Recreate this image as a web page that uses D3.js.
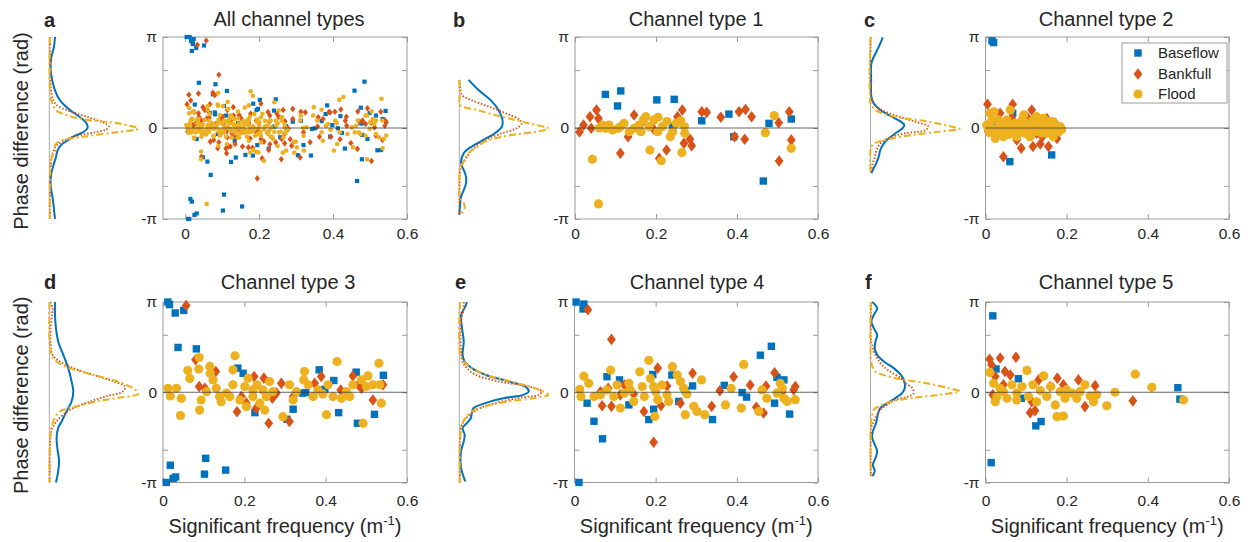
<!DOCTYPE html>
<html><head><meta charset="utf-8">
<script src="https://cdn.jsdelivr.net/npm/d3@7"></script>
<style>
body{margin:0;background:#fff}
text{font-family:"Liberation Sans",Arial,Helvetica,sans-serif;fill:#262626}
</style>
</head><body>
<svg id="chart" width="1248" height="542"></svg>
<script>
const PI = Math.PI;
// ---------- scatter data: [significant frequency (1/m), phase difference (rad)] ----------
const ct1_base = [[0.075,1.16],[0.113,1.28],[0.105,0.76],[0.202,0.97],[0.245,0.99],[0.241,0.05],[0.313,0.25],[0.38,0.48],[0.392,-0.3],[0.479,0.16],[0.534,0.31],[0.465,-1.83]];
const ct1_bank = [[0.011,-0.14],[0.021,0.1],[0.037,0.39],[0.04,-0.01],[0.053,0.62],[0.058,0.33],[0.112,-0.87],[0.131,-0.3],[0.146,0.45],[0.164,0.16],[0.195,-0.05],[0.208,-1.05],[0.226,-0.76],[0.253,0.39],[0.265,0.62],[0.269,-0.53],[0.284,-0.39],[0.288,-0.61],[0.313,0.56],[0.325,0.54],[0.36,0.37],[0.405,0.56],[0.421,0.64],[0.436,0.39],[0.394,-0.3],[0.419,-0.39],[0.503,0.18],[0.504,-1.14],[0.529,0.56],[0.534,-0.41]];
const ct1_flood = [[0.043,-1.08],[0.058,-2.62],[0.06,0],[0.068,0.1],[0.076,-0.01],[0.084,0.1],[0.093,-0.07],[0.107,-0.01],[0.113,0.05],[0.121,0.16],[0.134,-0.13],[0.146,-0.01],[0.158,0.1],[0.163,-0.13],[0.169,0.28],[0.175,0.39],[0.183,0.05],[0.185,-0.76],[0.195,0.28],[0.204,-0.13],[0.205,0.37],[0.213,-1.13],[0.216,0.05],[0.227,0.22],[0.235,-0.3],[0.241,-0.13],[0.25,0.16],[0.261,0.25],[0.264,-0.85],[0.27,0.05],[0.271,-0.18],[0.47,-0.16],[0.492,0.43],[0.534,-0.7]];

const ct2_base = [[0.016,3.01],[0.02,2.95],[0.06,-1.16],[0.163,-0.93],[0.067,0.51],[0.028,0.05],[0.11,-0.13],[0.143,0.16]];
const ct2_bank = [[0.005,0.82],[0.007,-0.13],[0.044,-0.99],[0.067,0.82],[0.088,-0.7],[0.114,0.62],[0.117,-0.64],[0.135,-0.55],[0.155,-0.64],[0.176,-0.36],[0.036,0.51],[0.102,0.39],[0.151,0.33],[0.077,-0.41],[0.172,0.16],[0.016,0.28],[0.052,-0.18],[0.126,-0.18],[0.159,-0.13],[0.03,0.2],[0.095,0.3],[0.14,-0.3],[0.065,0.35]];
const ct2_flood = [[0.011,0.51],[0.021,0.56],[0.061,0.62],[0.003,0.1],[0.02,-0.07],[0.024,-0.36],[0.036,0.16],[0.044,-0.01],[0.053,0.28],[0.065,-0.13],[0.073,0.16],[0.081,-0.01],[0.09,0.28],[0.098,-0.18],[0.106,0.05],[0.114,0.22],[0.122,-0.07],[0.131,0.1],[0.139,-0.18],[0.147,0.05],[0.155,0.22],[0.163,-0.07],[0.172,0.1],[0.18,-0.13],[0.184,0.05],[0.11,-0.3],[0.077,-0.3],[0.044,-0.3],[0.032,0.28],[0.143,0.33],[0.094,0.45],[0.126,0.39],[0.061,0.1],[0.09,-0.13],[0.118,-0.01],[0.151,-0.18],[0.167,-0.3],[0.01,-0.15],[0.03,0.0],[0.057,-0.05],[0.085,0.08],[0.135,0.0],[0.175,-0.05],[0.015,0.25],[0.048,0.12],[0.07,0.02],[0.1,0.15],[0.127,-0.12],[0.16,0.12],[0.188,-0.04],[0.007,-0.02],[0.038,-0.12],[0.102,-0.08],[0.145,0.14],[0.165,0.22],[0.057,-0.22],[0.12,0.3]];

const ct3_base = [[0.012,3.14],[0.016,3.05],[0.03,2.76],[0.051,2.85],[0.037,1.56],[0.082,1.51],[0.184,0.84],[0.197,0.66],[0.226,-0.71],[0.305,-0.94],[0.32,-0.59],[0.343,-0.03],[0.351,-0.01],[0.384,0.78],[0.398,0.1],[0.42,0.41],[0.432,-0.71],[0.475,0.7],[0.478,-1.08],[0.52,-0.77],[0.542,0.59],[0.008,-3.14],[0.018,-2.54],[0.025,-3.0],[0.031,-2.95],[0.105,-2.3],[0.102,-2.85],[0.154,-2.71]];
const ct3_bank = [[0.057,3.02],[0.08,1.13],[0.089,0.2],[0.103,0.14],[0.13,0.72],[0.182,-0.68],[0.205,-0.38],[0.224,0.55],[0.229,-0.56],[0.248,0.49],[0.26,-1.08],[0.269,-0.21],[0.291,0.31],[0.311,-1.02],[0.32,-0.15],[0.373,0.31],[0.389,0.55],[0.437,0.08],[0.467,0.57],[0.48,0.26],[0.488,0.14],[0.516,-0.27],[0.541,0.26],[0.193,-0.15],[0.279,-0.03]];
const ct3_flood = [[0.012,0.14],[0.018,-0.13],[0.033,0.14],[0.045,-0.21],[0.043,-0.81],[0.061,0.76],[0.066,0.48],[0.089,1.21],[0.088,0.81],[0.09,-0.62],[0.094,-0.27],[0.115,0.9],[0.116,0.66],[0.123,0.43],[0.131,0.14],[0.139,-0.15],[0.143,-0.33],[0.156,-0.03],[0.172,0.26],[0.177,1.27],[0.172,0.78],[0.189,-0.27],[0.201,0.2],[0.205,-0.5],[0.209,0.49],[0.221,-0.15],[0.231,0.26],[0.238,-0.38],[0.246,0.08],[0.254,-0.15],[0.262,0.37],[0.27,0.02],[0.25,-0.62],[0.295,-0.85],[0.311,0.26],[0.32,-0.27],[0.328,0.02],[0.348,0.72],[0.346,0.43],[0.357,0.26],[0.369,-0.15],[0.381,0.08],[0.393,-0.06],[0.402,-0.78],[0.406,0.26],[0.418,-0.15],[0.428,1.07],[0.439,-0.21],[0.451,0.02],[0.459,-0.15],[0.467,0.26],[0.492,-1.08],[0.488,0.43],[0.5,0.2],[0.504,0.57],[0.516,0.26],[0.531,1.01],[0.537,-0.38],[0.533,0.26],[0.164,-0.15],[0.221,0.08],[0.107,0.02]];

const ct4_base = [[0.004,3.14],[0.023,3.07],[0.021,2.9],[0.031,-0.38],[0.048,-1.01],[0.069,-1.62],[0.08,0.54],[0.134,-0.44],[0.111,0.43],[0.183,-0.95],[0.193,0.62],[0.195,-0.59],[0.24,0.6],[0.257,-0.32],[0.273,0.06],[0.291,0.22],[0.34,-0.95],[0.369,0.24],[0.413,-0.01],[0.424,-0.17],[0.458,1.29],[0.485,1.6],[0.499,0.52],[0.516,0.43],[0.493,-0.38],[0.53,-0.76],[0.011,-3.14]];
const ct4_bank = [[0.033,2.87],[0.091,1.84],[0.064,0.02],[0.068,-0.47],[0.091,-0.49],[0.083,0.14],[0.123,0.25],[0.146,-0.06],[0.171,-0.67],[0.195,-1.74],[0.205,0.84],[0.213,-0.47],[0.228,0.22],[0.261,-0.38],[0.291,0.66],[0.338,-0.49],[0.358,0.05],[0.392,0.54],[0.433,0.25],[0.448,-0.52],[0.466,-0.72],[0.472,0.22],[0.493,0.68],[0.512,0.02],[0.544,0.2],[0.54,0.08],[0.113,-0.09]];
const ct4_flood = [[0.013,0.1],[0.016,-0.15],[0.023,0.56],[0.035,0.31],[0.048,-0.15],[0.064,-0.09],[0.089,0.77],[0.08,0.08],[0.097,-0.15],[0.105,0.25],[0.113,-0.55],[0.123,-0.03],[0.134,0.31],[0.146,-0.32],[0.161,0.71],[0.167,0.2],[0.172,-0.15],[0.183,1.11],[0.187,0.48],[0.198,-0.84],[0.2,0.02],[0.205,-0.26],[0.216,0.25],[0.228,-0.09],[0.232,-0.32],[0.241,0.89],[0.253,0.6],[0.261,0.37],[0.269,0.14],[0.273,-0.78],[0.277,-0.06],[0.294,-0.49],[0.302,-0.67],[0.313,0.43],[0.321,-0.78],[0.372,-0.44],[0.386,0.14],[0.411,-0.55],[0.417,0.97],[0.454,-0.67],[0.462,0.08],[0.474,-0.21],[0.507,0.31],[0.512,0.14],[0.516,-0.21],[0.524,-0.32],[0.544,-0.26],[0.499,-0.03],[0.138,0.08],[0.195,0.2]];

const ct5_base = [[0.018,2.66],[0.014,-2.45],[0.026,0.81],[0.081,0.47],[0.088,-0.21],[0.124,-1.17],[0.137,-1.02],[0.474,0.16],[0.479,-0.24]];
const ct5_bank = [[0.01,1.15],[0.015,0.95],[0.036,1.19],[0.075,1.22],[0.018,-0.09],[0.024,0.55],[0.048,0.72],[0.061,0.6],[0.11,-0.71],[0.122,-0.64],[0.131,0.43],[0.159,0.2],[0.177,0.49],[0.192,0.26],[0.229,0.43],[0.245,-0.5],[0.27,0.23],[0.363,-0.3],[0.114,-0.33],[0.044,0.26]];
const ct5_flood = [[0.011,0.69],[0.02,0.31],[0.028,-0.15],[0.036,0.14],[0.044,0.02],[0.053,-0.21],[0.065,0.26],[0.077,-0.03],[0.09,0.2],[0.102,0.76],[0.106,-0.15],[0.117,0.26],[0.126,-0.33],[0.135,0.06],[0.143,0.57],[0.151,-0.15],[0.161,0.2],[0.172,-0.44],[0.176,-0.85],[0.192,-0.83],[0.196,-0.21],[0.2,0.08],[0.213,-0.03],[0.225,-0.21],[0.233,0.02],[0.245,0.26],[0.258,-0.13],[0.266,-0.33],[0.274,-0.09],[0.299,-0.47],[0.319,0],[0.369,0.63],[0.41,0.17],[0.488,-0.27],[0.024,-0.33],[0.077,-0.27],[0.184,0.02]];

// ---------- side density profiles: [phase (rad), relative density] ----------
const dens_a_base = [[3.14,0.064],[2.8,0.052],[2.4,0.02],[2.0,0.015],[1.6,0.037],[1.3,0.064],[1.0,0.11],[0.8,0.165],[0.6,0.24],[0.45,0.31],[0.3,0.375],[0.15,0.42],[0,0.43],[-0.15,0.375],[-0.3,0.27],[-0.45,0.195],[-0.6,0.127],[-0.8,0.09],[-1.0,0.075],[-1.3,0.045],[-1.6,0.02],[-2.0,0.015],[-2.4,0.037],[-2.8,0.052],[-3.14,0.064]];
const dens_a_bank = [[3.14,0.01],[2.4,0.01],[1.6,0.015],[1.3,0.02],[1.0,0.04],[0.8,0.08],[0.6,0.21],[0.45,0.36],[0.3,0.51],[0.15,0.63],[0.05,0.67],[-0.05,0.64],[-0.15,0.51],[-0.3,0.27],[-0.45,0.16],[-0.6,0.08],[-0.8,0.045],[-1.0,0.026],[-1.3,0.015],[-1.6,0.01],[-3.14,0.01]];
const dens_a_flood = [[3.14,0.005],[1.3,0.008],[1.0,0.02],[0.8,0.04],[0.6,0.08],[0.45,0.19],[0.3,0.38],[0.15,0.79],[-0.02,1.0],[-0.15,0.74],[-0.3,0.38],[-0.45,0.12],[-0.6,0.064],[-0.8,0.064],[-1.0,0.03],[-1.3,0.015],[-1.6,0.008],[-3.14,0.005]];
const dens_b_base = [[1.66,0.104],[1.31,0.216],[0.97,0.35],[0.62,0.44],[0.28,0.485],[0.05,0.48],[-0.18,0.40],[-0.41,0.27],[-0.64,0.14],[-0.87,0.05],[-1.22,0.02],[-1.45,0.05],[-1.68,0.075],[-1.91,0.075],[-2.14,0.05],[-2.37,0.02],[-2.6,0.01],[-3.0,0.0]];
const dens_b_bank = [[1.66,0.0],[1.43,0.01],[1.14,0.03],[0.97,0.13],[0.74,0.33],[0.51,0.52],[0.28,0.68],[0.16,0.70],[-0.01,0.645],[-0.18,0.48],[-0.36,0.33],[-0.53,0.235],[-0.76,0.14],[-0.99,0.086],[-1.22,0.04],[-1.45,0.01],[-1.8,0.003],[-3.0,0.003]];
const dens_b_flood = [[1.66,0.0],[1.08,0.005],[0.79,0.01],[0.62,0.2],[0.39,0.48],[0.16,0.78],[-0.02,1.0],[-0.3,0.48],[-0.47,0.29],[-0.7,0.18],[-0.87,0.10],[-1.16,0.05],[-1.33,0.01],[-1.6,0.003],[-2.37,0.005],[-2.6,0.05],[-2.77,0.06],[-3.0,0.01]];
const dens_c_base = [[3.13,0.138],[2.92,0.11],[2.69,0.075],[2.46,0.037],[2.23,0.01],[1.66,0.007],[1.08,0.01],[0.85,0.037],[0.62,0.11],[0.39,0.24],[0.22,0.34],[0.1,0.38],[-0.01,0.36],[-0.18,0.28],[-0.36,0.205],[-0.53,0.15],[-0.76,0.11],[-0.99,0.093],[-1.22,0.063],[-1.45,0.026],[-1.56,0.01]];
const dens_c_bank = [[3.13,0.003],[1.08,0.005],[0.85,0.035],[0.62,0.13],[0.39,0.32],[0.22,0.50],[0.05,0.65],[-0.07,0.62],[-0.18,0.39],[-0.3,0.24],[-0.47,0.13],[-0.7,0.075],[-0.99,0.05],[-1.22,0.026],[-1.45,0.01],[-1.56,0.005]];
const dens_c_flood = [[3.13,0.0],[0.85,0.0],[0.74,0.02],[0.56,0.09],[0.39,0.28],[0.22,0.65],[0.05,0.91],[-0.03,1.0],[-0.13,0.76],[-0.24,0.47],[-0.36,0.24],[-0.47,0.09],[-0.59,0.02],[-0.76,0.0],[-1.56,0.0]];
const dens_d_base = [[3.14,0.064],[2.69,0.064],[2.23,0.075],[1.77,0.10],[1.3,0.157],[0.84,0.213],[0.38,0.25],[0.03,0.27],[-0.32,0.25],[-0.55,0.213],[-0.78,0.176],[-1.01,0.14],[-1.24,0.10],[-1.59,0.082],[-1.94,0.09],[-2.4,0.11],[-2.75,0.10],[-3.14,0.075]];
const dens_d_bank = [[3.14,0.01],[2.92,0.037],[2.69,0.03],[2.23,0.015],[1.65,0.015],[1.3,0.037],[1.07,0.12],[0.84,0.27],[0.61,0.49],[0.38,0.72],[0.2,0.85],[0.03,0.83],[-0.14,0.64],[-0.32,0.46],[-0.55,0.27],[-0.78,0.157],[-1.01,0.082],[-1.24,0.037],[-1.48,0.015],[-3.14,0.005]];
const dens_d_flood = [[3.14,0.003],[1.65,0.005],[1.3,0.026],[1.07,0.082],[0.84,0.23],[0.61,0.49],[0.38,0.76],[0.14,0.94],[-0.05,1.0],[-0.2,0.76],[-0.32,0.53],[-0.49,0.31],[-0.61,0.157],[-0.78,0.082],[-1.01,0.045],[-1.36,0.015],[-3.14,0.003]];
const dens_e_base = [[3.14,0.086],[2.98,0.067],[2.69,0.02],[2.23,0.03],[1.77,0.05],[1.3,0.037],[1.07,0.06],[0.84,0.14],[0.61,0.29],[0.38,0.55],[0.2,0.74],[0.03,0.78],[-0.09,0.72],[-0.2,0.51],[-0.38,0.29],[-0.55,0.16],[-0.72,0.14],[-0.9,0.13],[-1.07,0.086],[-1.24,0.037],[-1.48,0.06],[-1.71,0.05],[-2.05,0.02],[-2.63,0.02],[-3.1,0.067]];
const dens_e_bank = [[3.14,0.05],[2.92,0.05],[2.46,0.02],[1.07,0.037],[0.84,0.086],[0.61,0.18],[0.38,0.44],[0.2,0.78],[0.03,0.925],[-0.09,0.89],[-0.2,0.66],[-0.38,0.40],[-0.55,0.235],[-0.78,0.12],[-1.01,0.05],[-1.24,0.02],[-3.14,0.01]];
const dens_e_flood = [[3.14,0.01],[1.3,0.01],[1.07,0.05],[0.84,0.14],[0.61,0.29],[0.38,0.57],[0.14,0.85],[-0.09,1.0],[-0.2,0.85],[-0.32,0.55],[-0.49,0.29],[-0.67,0.14],[-0.9,0.067],[-1.13,0.03],[-1.48,0.01],[-3.14,0.005]];
const dens_f_base = [[3.14,0.02],[2.92,0.075],[2.69,0.037],[2.46,0.01],[2.23,0.037],[2.0,0.075],[1.77,0.056],[1.53,0.048],[1.3,0.075],[1.07,0.15],[0.84,0.26],[0.61,0.34],[0.38,0.38],[0.14,0.385],[-0.03,0.355],[-0.2,0.28],[-0.38,0.19],[-0.55,0.11],[-0.72,0.086],[-0.9,0.075],[-1.13,0.056],[-1.36,0.026],[-1.59,0.019],[-1.82,0.048],[-2.05,0.075],[-2.29,0.056],[-2.52,0.026],[-2.75,0.048],[-2.92,0.02]];
const dens_f_bank = [[3.14,0.007],[1.77,0.007],[1.65,0.019],[1.42,0.037],[1.19,0.075],[0.95,0.13],[0.72,0.22],[0.49,0.34],[0.32,0.39],[0.14,0.47],[-0.03,0.485],[-0.14,0.43],[-0.26,0.28],[-0.43,0.19],[-0.61,0.11],[-0.78,0.075],[-1.01,0.037],[-1.24,0.01],[-2.92,0.005]];
const dens_f_flood = [[3.14,0.003],[1.07,0.005],[0.9,0.02],[0.72,0.056],[0.49,0.28],[0.32,0.62],[0.14,0.88],[0.03,1.0],[-0.09,0.765],[-0.2,0.47],[-0.32,0.24],[-0.49,0.093],[-0.61,0.037],[-0.78,0.02],[-1.01,0.005],[-2.92,0.003]];

// ---------- labels ----------
const seriesNames = ["Baseflow","Bankfull","Flood"];
const panelLetters = ["a","b","c","d","e","f"];
const panelTitles = ["All channel types","Channel type 1","Channel type 2","Channel type 3","Channel type 4","Channel type 5"];
const xTicks = [0,0.2,0.4,0.6];
const yTickValues = [-PI,-2,0,2,PI];

// panel a = union of all channel types
const all_base = [].concat(ct1_base,ct2_base,ct3_base,ct4_base,ct5_base);
const all_bank = [].concat(ct1_bank,ct2_bank,ct3_bank,ct4_bank,ct5_bank);
const all_flood = [].concat(ct1_flood,ct2_flood,ct3_flood,ct4_flood,ct5_flood);

const COL = ["#0072BD","#D95319","#EDB120"];
const FRAME = "#9a9a9a";

const layout = [
  {x0:163,x1:407,xmin:-0.06,top:37,bot:219,dx:49.3,titleX:289,small:true},
  {x0:575,x1:818,xmin:0,top:37,bot:219,dx:459.3,titleX:696},
  {x0:985.5,x1:1229,xmin:0,top:37,bot:219,dx:870.5,titleX:1106},
  {x0:163,x1:407,xmin:0,top:302,bot:482.5,dx:49.3,titleX:288},
  {x0:574.5,x1:818,xmin:0,top:302,bot:482.5,dx:459.3,titleX:697},
  {x0:985.5,x1:1229,xmin:0,top:302,bot:482.5,dx:870.5,titleX:1106}
];
const scatterData = [
  [all_base,all_bank,all_flood],
  [ct1_base,ct1_bank,ct1_flood],
  [ct2_base,ct2_bank,ct2_flood],
  [ct3_base,ct3_bank,ct3_flood],
  [ct4_base,ct4_bank,ct4_flood],
  [ct5_base,ct5_bank,ct5_flood]
];
const densData = [
  [dens_a_base,dens_a_bank,dens_a_flood],
  [dens_b_base,dens_b_bank,dens_b_flood],
  [dens_c_base,dens_c_bank,dens_c_flood],
  [dens_d_base,dens_d_bank,dens_d_flood],
  [dens_e_base,dens_e_bank,dens_e_flood],
  [dens_f_base,dens_f_bank,dens_f_flood]
];

const svg = d3.select("#chart");
const fmtY = v => Math.abs(v-PI)<1e-6 ? "π" : Math.abs(v+PI)<1e-6 ? "-π" : v===0 ? "0" : "";

function diamondPath(w,h){ return `M0,${-h}L${w},0L0,${h}L${-w},0Z`; }

layout.forEach((L,i)=>{
  const g = svg.append("g");
  const x = d3.scaleLinear().domain([L.xmin,0.6]).range([L.x0,L.x1]);
  const y = d3.scaleLinear().domain([-PI,PI]).range([L.bot,L.top]);
  const bottomRow = i>=3;

  // frame
  g.append("rect").attr("x",L.x0).attr("y",L.top).attr("width",L.x1-L.x0).attr("height",L.bot-L.top)
   .attr("fill","none").attr("stroke",FRAME).attr("stroke-width",1);

  // axes
  const ax = g.append("g").attr("transform",`translate(0,${L.bot})`)
    .call(d3.axisBottom(x).tickValues(xTicks).tickFormat(d3.format("")).tickSizeInner(-5).tickSizeOuter(0).tickPadding(bottomRow?12:9));
  const axT = g.append("g").attr("transform",`translate(0,${L.top})`)
    .call(d3.axisTop(x).tickValues(xTicks).tickFormat("").tickSizeInner(-5).tickSizeOuter(0));
  const ay = g.append("g").attr("transform",`translate(${L.x0},0)`)
    .call(d3.axisLeft(y).tickValues(yTickValues).tickFormat(fmtY).tickSizeInner(-5).tickSizeOuter(0).tickPadding(6));
  const ayR = g.append("g").attr("transform",`translate(${L.x1},0)`)
    .call(d3.axisRight(y).tickValues(yTickValues).tickFormat("").tickSizeInner(-5).tickSizeOuter(0));
  [ax,axT,ay,ayR].forEach(a=>{
    a.select(".domain").remove();
    a.selectAll(".tick line").attr("stroke",FRAME);
    a.selectAll(".tick text").attr("font-size",15.5).attr("fill","#262626")
      .attr("font-family",'"Liberation Sans",Arial,sans-serif');
  });

  // markers
  const sz = L.small ? {sq:4.2,dw:2.6,dh:3.3,r:2.3} : {sq:7.4,dw:4.4,dh:5.8,r:4.6};
  const [sb,sk,sf] = scatterData[i];
  g.append("g").selectAll("rect").data(sb).join("rect")
    .attr("x",d=>x(d[0])-sz.sq/2).attr("y",d=>y(d[1])-sz.sq/2)
    .attr("width",sz.sq).attr("height",sz.sq).attr("fill",COL[0]);
  g.append("g").selectAll("path").data(sk).join("path")
    .attr("d",diamondPath(sz.dw,sz.dh))
    .attr("transform",d=>`translate(${x(d[0])},${y(d[1])})`).attr("fill",COL[1]);
  g.append("g").selectAll("circle").data(sf).join("circle")
    .attr("cx",d=>x(d[0])).attr("cy",d=>y(d[1])).attr("r",sz.r).attr("fill",COL[2]);

  // zero line
  g.append("line").attr("x1",L.x0).attr("x2",L.x1).attr("y1",y(0)).attr("y2",y(0))
    .attr("stroke","#333").attr("stroke-opacity",0.75).attr("stroke-width",1);

  // title and panel letter
  g.append("text").attr("x",L.titleX).attr("y",bottomRow?289:26).attr("text-anchor","middle")
    .attr("font-size",20).text(panelTitles[i]);
  const lx = [44,453,864,44,455,865][i];
  g.append("text").attr("x",lx).attr("y",bottomRow?289:27).attr("font-size",20).attr("font-weight","bold")
    .attr("fill","#000").text(panelLetters[i]);

  // side density profiles
  const dens = densData[i];
  const xd = d3.scaleLinear().domain([0,1]).range([L.dx,L.dx+89]);
  const ext = d3.extent(dens.flat(), d=>d[0]);
  g.append("line").attr("x1",L.dx).attr("x2",L.dx).attr("y1",y(ext[1])).attr("y2",y(ext[0]))
    .attr("stroke","#a8a8a8").attr("stroke-width",1);
  const line = d3.line().x(d=>xd(d[1])).y(d=>y(d[0])).curve(d3.curveCatmullRom.alpha(0.5));
  const styles = [
    {w:2,dash:null},
    {w:1.9,dash:"1.5 1.8"},
    {w:2.1,dash:"7 3 2 3"}
  ];
  dens.forEach((arr,k)=>{
    const p = g.append("path").attr("d",line(arr)).attr("fill","none")
      .attr("stroke",COL[k]).attr("stroke-width",styles[k].w);
    if(styles[k].dash) p.attr("stroke-dasharray",styles[k].dash);
  });

  // axis labels
  if(i===0||i===3){
    const cy = (L.top+L.bot)/2+3;
    g.append("text").attr("transform",`translate(28,${cy}) rotate(-90)`).attr("text-anchor","middle")
      .attr("font-size",20).text("Phase difference (rad)");
  }
  if(bottomRow){
    const t = g.append("text").attr("x",(L.x0+L.x1)/2).attr("y",533).attr("text-anchor","middle").attr("font-size",20);
    t.append("tspan").text("Significant frequency (m");
    t.append("tspan").attr("font-size",13).attr("dy",-8).text("-1");
    t.append("tspan").attr("dy",8).text(")");
  }

  // legend in panel c
  if(i===2){
    const lg = g.append("g");
    lg.append("rect").attr("x",1122).attr("y",43).attr("width",105).attr("height",60)
      .attr("fill","#fff").attr("stroke",FRAME);
    const ys = [53,74,94];
    lg.append("rect").attr("x",1138-3.7).attr("y",ys[0]-3.7).attr("width",7.4).attr("height",7.4).attr("fill",COL[0]);
    lg.append("path").attr("d",diamondPath(4.4,5.8)).attr("transform",`translate(1138,${ys[1]})`).attr("fill",COL[1]);
    lg.append("circle").attr("cx",1138).attr("cy",ys[2]).attr("r",4.6).attr("fill",COL[2]);
    seriesNames.forEach((n,k)=>{
      lg.append("text").attr("x",1158).attr("y",ys[k]).attr("dy","0.35em").attr("font-size",15).text(n);
    });
  }
});
</script>
</body></html>
